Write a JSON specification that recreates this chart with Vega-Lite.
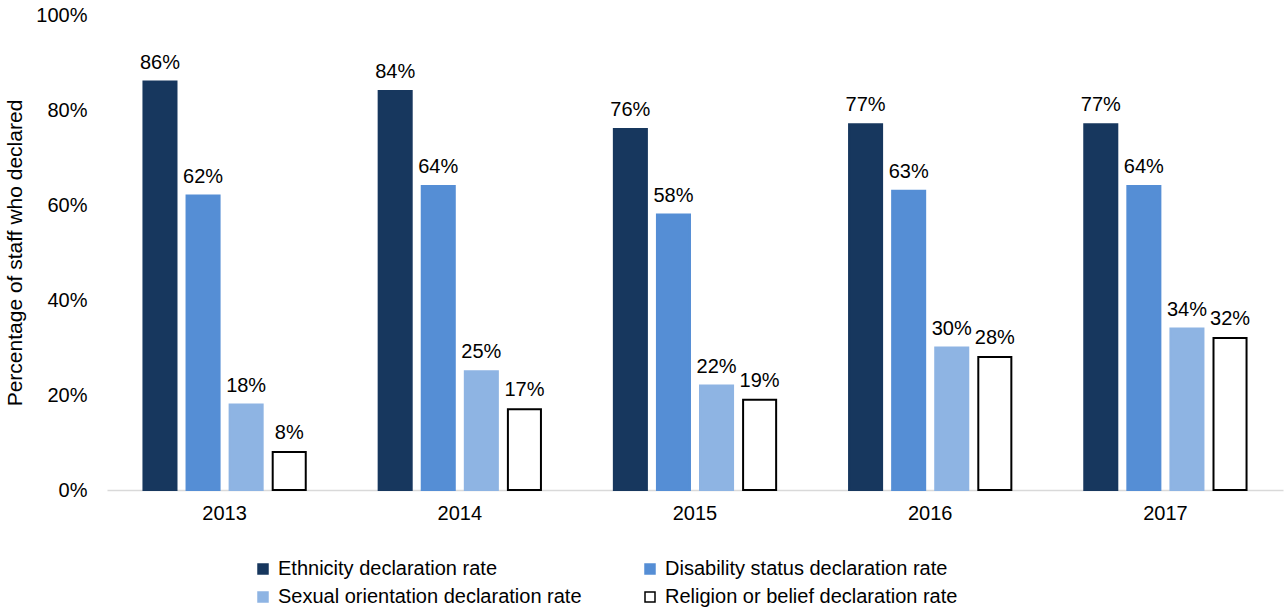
{
  "$schema": "https://vega.github.io/schema/vega-lite/v6.json",
  "width": 1176,
  "height": 475,
  "autosize": {"type": "none"},
  "padding": {"left": 107, "top": 15, "right": 4, "bottom": 122},
  "background": "white",
  "config": {
    "view": {"stroke": null},
    "font": "Liberation Sans",
    "axis": {"labelFont": "Liberation Sans", "titleFont": "Liberation Sans", "labelColor": "#000000", "titleColor": "#000000"}
  },
  "data": {
    "values": [
      {"year": "2013", "measure": "Ethnicity declaration rate", "value": 0.86},
      {"year": "2013", "measure": "Disability status declaration rate", "value": 0.62},
      {"year": "2013", "measure": "Sexual orientation declaration rate", "value": 0.18},
      {"year": "2013", "measure": "Religion or belief declaration rate", "value": 0.08},
      {"year": "2014", "measure": "Ethnicity declaration rate", "value": 0.84},
      {"year": "2014", "measure": "Disability status declaration rate", "value": 0.64},
      {"year": "2014", "measure": "Sexual orientation declaration rate", "value": 0.25},
      {"year": "2014", "measure": "Religion or belief declaration rate", "value": 0.17},
      {"year": "2015", "measure": "Ethnicity declaration rate", "value": 0.76},
      {"year": "2015", "measure": "Disability status declaration rate", "value": 0.58},
      {"year": "2015", "measure": "Sexual orientation declaration rate", "value": 0.22},
      {"year": "2015", "measure": "Religion or belief declaration rate", "value": 0.19},
      {"year": "2016", "measure": "Ethnicity declaration rate", "value": 0.77},
      {"year": "2016", "measure": "Disability status declaration rate", "value": 0.63},
      {"year": "2016", "measure": "Sexual orientation declaration rate", "value": 0.30},
      {"year": "2016", "measure": "Religion or belief declaration rate", "value": 0.28},
      {"year": "2017", "measure": "Ethnicity declaration rate", "value": 0.77},
      {"year": "2017", "measure": "Disability status declaration rate", "value": 0.64},
      {"year": "2017", "measure": "Sexual orientation declaration rate", "value": 0.34},
      {"year": "2017", "measure": "Religion or belief declaration rate", "value": 0.32}
    ]
  },
  "encoding": {
    "x": {
      "field": "year", "type": "nominal",
      "scale": {"paddingInner": 0.31, "paddingOuter": 0.155},
      "axis": {"title": null, "labelAngle": 0, "labelFontSize": 20, "labelPadding": 13, "ticks": false, "domainColor": "#d9d9d9", "domainWidth": 1.5}
    },
    "xOffset": {
      "field": "measure", "type": "nominal",
      "sort": ["Ethnicity declaration rate", "Disability status declaration rate", "Sexual orientation declaration rate", "Religion or belief declaration rate"],
      "scale": {"paddingInner": 0.233, "paddingOuter": 0}
    },
    "y": {
      "field": "value", "type": "quantitative",
      "scale": {"domain": [0, 1]},
      "axis": {"title": "Percentage of staff who declared", "titleFontSize": 21, "titleFontWeight": "normal", "titlePadding": 10, "format": ".0%", "values": [0, 0.2, 0.4, 0.6, 0.8, 1], "labelOverlap": false, "labelFontSize": 20, "labelPadding": 20, "ticks": false, "domain": false, "grid": false}
    }
  },
  "layer": [
    {
      "mark": {"type": "bar", "strokeWidth": 2},
      "encoding": {
        "color": {
          "field": "measure", "type": "nominal",
          "scale": {
            "domain": ["Ethnicity declaration rate", "Sexual orientation declaration rate", "Disability status declaration rate", "Religion or belief declaration rate"],
            "range": ["#17375E", "#8EB4E3", "#558ED5", "#FFFFFF"]
          },
          "legend": {
            "title": null, "orient": "none", "legendX": 146, "legendY": 544,
            "columns": 2, "columnPadding": 58, "rowPadding": 8,
            "symbolType": "square", "symbolSize": 100, "symbolStrokeWidth": 1.5,
            "labelFontSize": 20, "labelColor": "#000000", "labelLimit": 400, "labelOffset": 5
          }
        },
        "stroke": {
          "field": "measure", "type": "nominal",
          "scale": {
            "domain": ["Ethnicity declaration rate", "Sexual orientation declaration rate", "Disability status declaration rate", "Religion or belief declaration rate"],
            "range": ["#17375E", "#8EB4E3", "#558ED5", "#000000"]
          }
        }
      }
    },
    {
      "mark": {"type": "text", "baseline": "bottom", "dy": -9, "fontSize": 20, "color": "#000000"},
      "encoding": {
        "text": {"field": "value", "type": "quantitative", "format": ".0%"}
      }
    }
  ]
}
